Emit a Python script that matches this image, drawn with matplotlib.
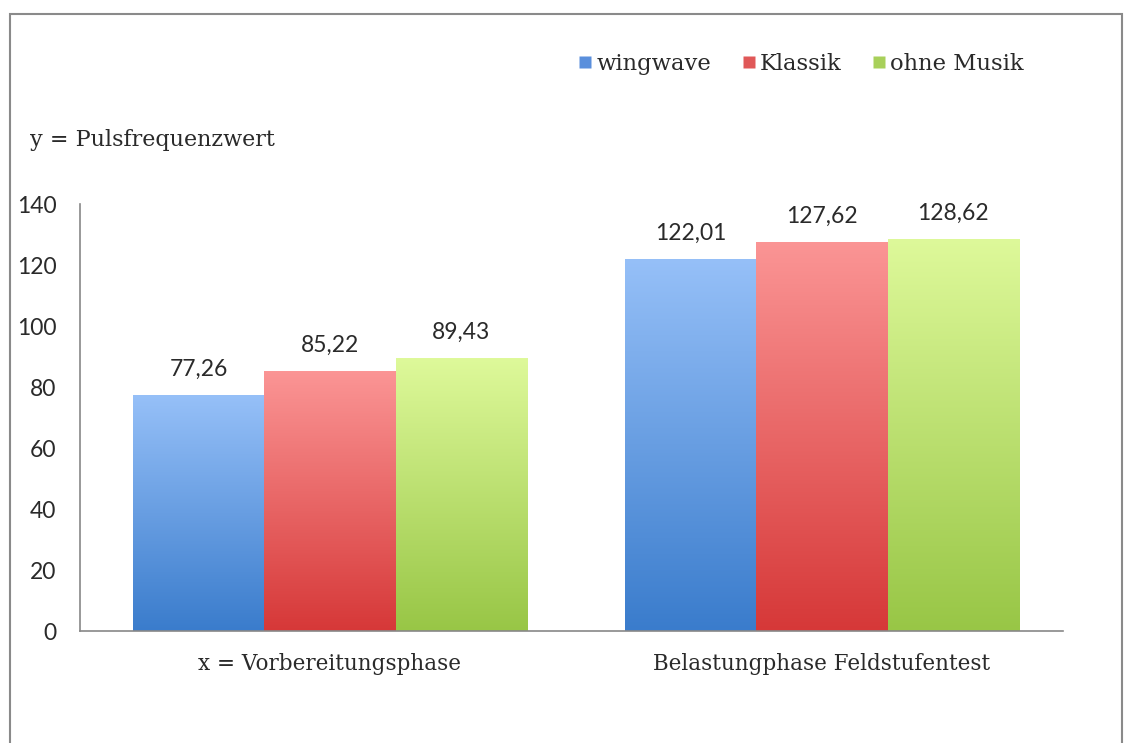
import matplotlib
matplotlib.use("Agg")
import matplotlib.pyplot as plt
import numpy as np
from matplotlib.colors import LinearSegmentedColormap
from matplotlib.patches import Rectangle
from matplotlib.lines import Line2D

categories = ["x = Vorbereitungsphase", "Belastungphase Feldstufentest"]
series = ["wingwave", "Klassik", "ohne Musik"]
wingwave = [77.26, 122.01]
klassik = [85.22, 127.62]
ohne_musik = [89.43, 128.62]
yticks = [0, 20, 40, 60, 80, 100, 120, 140]

# (top colour, bottom colour, legend colour) per series
_GRAD = [("#96c0f8", "#3a7ccc", "#5a8fdc"),
         ("#fb9595", "#d63838", "#e05858"),
         ("#def99a", "#98c646", "#a8d05a")]
_SERIF = ["DejaVu Serif"]
_SANS = ["Lato"]
_TXT = "#2a2a2a"

fig = plt.figure(figsize=(11.29, 7.43), dpi=100, facecolor="white")
ax = fig.add_axes([0.0709, 0.1507, 0.8706, 0.5747])

x = np.arange(len(categories))
w = 0.267
grad = np.linspace(1, 0, 256).reshape(-1, 1)
for i, (name, vals) in enumerate(zip(series, [wingwave, klassik, ohne_musik])):
    cmap = LinearSegmentedColormap.from_list(name, [_GRAD[i][1], _GRAD[i][0]])
    bars = ax.bar(x + (i - 1) * w, vals, w, color="none", edgecolor="none")
    for b, v in zip(bars, vals):
        bx = b.get_x()
        # gradient runs over each bar's own height: light top, saturated base
        im = ax.imshow(grad, cmap=cmap, aspect="auto", origin="upper",
                       extent=[bx, bx + b.get_width(), 0, v], zorder=2,
                       vmin=0, vmax=1)
        im.set_clip_path(b)
        ax.text(bx + b.get_width() / 2, v + 5, f"{v:.2f}".replace(".", ","),
                ha="center", va="bottom", fontsize=16.5, color=_TXT,
                family=_SANS)

ax.set_xlim(-0.508, 1.49)
ax.set_ylim(0, 140)
ax.set_yticks(yticks)
ax.set_yticklabels([str(t) for t in yticks], family=_SANS, fontsize=16.5, color=_TXT)
ax.set_xticks(x)
ax.set_xticklabels(categories, family=_SERIF, fontsize=15.5, color=_TXT)
ax.tick_params(axis="y", length=0, pad=17)
ax.tick_params(axis="x", length=0, pad=16)
for s in ["top", "right"]:
    ax.spines[s].set_visible(False)
for s in ["left", "bottom"]:
    ax.spines[s].set_color("#888888")
    ax.spines[s].set_linewidth(1.2)

fig.text(30 / 1129, 1 - 140 / 743, "y = Pulsfrequenzwert", family=_SERIF,
         fontsize=16, color=_TXT, va="center", ha="left")

handles = [Line2D([], [], marker="s", linestyle="none", markersize=8,
                  markerfacecolor=_GRAD[i][2], markeredgecolor="none")
           for i in range(3)]
leg = fig.legend(handles, series, loc="center right", bbox_to_anchor=(1024 / 1129, 1 - 64 / 743),
                 ncol=3, frameon=False, handletextpad=0.15, columnspacing=1.3,
                 handlelength=0.7, borderaxespad=0, borderpad=0,
                 prop={"family": _SERIF, "size": 16.3})
for t in leg.get_texts():
    t.set_color(_TXT)

# outer frame (bottom edge falls below the image)
fig.patches.append(Rectangle((10 / 1129, -0.05), (1122 - 10) / 1129, 1.05 - 14 / 743,
                             transform=fig.transFigure, fill=False,
                             edgecolor="#8a8a8a", linewidth=1.5))

fig.savefig("out.png", dpi=100, facecolor="white")
